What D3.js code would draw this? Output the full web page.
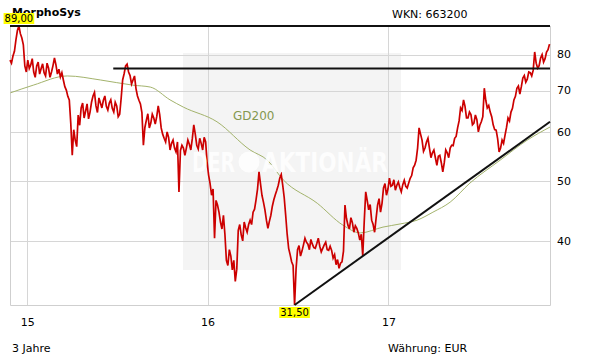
<!DOCTYPE html>
<html>
<head>
<meta charset="utf-8">
<script src="https://cdn.jsdelivr.net/npm/d3@7"></script>
<style>
  body { margin: 0; background: #fff; }
  svg { display: block; font-family: "DejaVu Sans", Verdana, sans-serif; }
</style>
</head>
<body>
<script>
// closing prices, one reading every 3 days starting 27 Nov 2014
const priceStart = new Date(2014, 10, 27);
const priceStepDays = 3;
const prices = [
  78.4, 77.5, 79.6, 81.0, 84.5, 87.5, 89.0, 86.5, 85.1, 83.0, 76.7, 75.0, 78.4, 76.0, 77.0, 78.8, 75.0, 73.5, 76.7, 77.8,
  74.4, 76.0, 77.3, 74.8, 73.9, 77.5, 76.1, 73.5, 75.0, 76.8, 79.0, 77.0, 74.4, 75.8, 73.6, 74.8, 72.8, 71.0, 70.1, 68.5,
  67.6, 62.0, 55.0, 60.5, 58.2, 56.8, 63.9, 61.5, 65.6, 66.8, 63.2, 64.8, 66.6, 63.0, 64.6, 67.0, 68.6, 69.5, 66.1, 64.5,
  68.1, 66.8, 65.6, 67.5, 68.6, 66.0, 65.1, 66.8, 67.6, 65.5, 64.6, 67.0, 66.1, 63.5, 64.1, 68.0, 72.8, 74.5, 76.7, 77.2,
  75.0, 74.0, 71.7, 72.8, 73.9, 70.5, 68.6, 67.5, 66.6, 64.5, 57.1, 61.0, 62.7, 64.2, 60.9, 62.0, 64.1, 63.2, 61.8, 63.5,
  66.1, 64.0, 60.9, 59.5, 58.6, 57.8, 60.0, 58.8, 56.1, 57.5, 58.2, 56.5, 55.7, 57.8, 48.0, 56.0, 57.1, 56.5, 55.0, 56.5,
  58.2, 57.3, 56.1, 58.5, 61.6, 59.5, 57.1, 56.3, 58.6, 57.5, 56.1, 58.8, 57.8, 53.5, 51.1, 49.5, 47.4, 48.5, 40.4, 46.5,
  45.7, 44.5, 42.9, 41.8, 44.0, 41.0, 37.2, 36.5, 38.7, 37.8, 35.9, 37.2, 34.4, 36.0, 41.6, 42.5, 40.9, 40.0, 42.9, 42.0,
  41.3, 42.5, 43.2, 42.5, 44.5, 45.0, 46.6, 48.5, 51.7, 49.5, 47.4, 46.2, 44.9, 43.2, 41.9, 43.0, 44.0, 45.5, 46.6, 47.5,
  48.3, 49.2, 50.5, 51.2, 49.2, 47.0, 44.0, 41.0, 38.9, 38.0, 37.0, 36.5, 31.5, 36.0, 38.7, 39.3, 37.8, 38.5, 39.4, 40.4,
  39.8, 39.5, 38.7, 40.2, 39.5, 39.0, 38.9, 39.6, 40.4, 39.2, 38.4, 38.9, 39.4, 39.8, 38.7, 38.6, 39.2, 38.6, 37.5, 38.0,
  36.6, 37.3, 36.1, 36.8, 37.0, 38.5, 45.7, 43.5, 42.4, 41.8, 43.6, 42.8, 41.3, 42.3, 41.9, 41.2, 40.1, 41.0, 37.8, 43.0,
  48.0, 46.5, 44.9, 45.8, 43.2, 42.5, 41.3, 43.5, 45.7, 46.8, 44.5, 46.0, 48.7, 49.5, 47.4, 48.5, 50.5, 49.0, 49.2, 50.2,
  48.3, 49.2, 49.8, 48.8, 48.0, 49.3, 50.1, 49.0, 48.7, 49.6, 50.5, 51.0, 52.5, 53.0, 54.0, 56.5, 60.9, 59.5, 58.2, 55.8,
  56.5, 57.8, 58.6, 56.5, 54.5, 55.5, 56.1, 54.5, 53.0, 54.8, 55.0, 53.5, 51.7, 53.5, 56.1, 55.5, 54.5, 56.5, 57.1, 57.0,
  58.6, 59.0, 60.9, 62.5, 65.6, 65.0, 67.6, 66.0, 63.2, 63.2, 64.6, 64.0, 61.6, 62.0, 63.9, 62.8, 60.0, 61.5, 62.3, 63.5,
  70.6, 67.5, 65.6, 66.2, 64.6, 63.5, 61.6, 60.5, 60.4, 58.5, 55.7, 56.5, 58.2, 57.5, 59.3, 61.0, 63.2, 62.5, 64.6, 65.5,
  67.6, 68.5, 70.6, 71.2, 69.1, 71.0, 73.3, 74.0, 72.2, 73.0, 75.0, 74.8, 73.9, 75.5, 80.8, 77.5, 76.1, 76.8, 79.0, 80.0,
  77.8, 78.8, 80.8, 81.5, 83.2
];

// 200-day average (GD200)
const gd200 = [
  ["2014-11-28", 69.4], ["2015-01-13", 71.4], ["2015-03-23", 73.9], ["2015-05-29", 72.8],
  ["2015-08-03", 71.4], ["2015-09-07", 70.9], ["2015-10-17", 67.6], ["2015-11-13", 65.8],
  ["2016-01-20", 62.3], ["2016-03-27", 56.1], ["2016-05-01", 54.0], ["2016-06-02", 50.2],
  ["2016-08-10", 46.0], ["2016-10-01", 42.4], ["2016-11-05", 41.2], ["2016-12-21", 42.1],
  ["2017-01-25", 42.6], ["2017-02-28", 43.2], ["2017-04-01", 44.5], ["2017-05-06", 46.2],
  ["2017-06-15", 49.6], ["2017-08-15", 54.0], ["2017-10-09", 58.2], ["2017-11-24", 61.1]
];

// drawn support / resistance lines
const resistance = { from: "2015-06-24", value: 76.0 };
const trend = [["2016-06-25", 31.5], ["2017-11-24", 62.3]];

const yTicks = [40, 50, 60, 70, 80];
const xTicks = ["2015-01-01", "2016-01-01", "2017-01-01"];
const dateEnd = "2017-11-24";

const title = "MorphoSys";
const wkn = "WKN: 663200";
const period = "3 Jahre";
const currency = "Währung: EUR";

const parse = d3.timeParse("%Y-%m-%d");
const fmtPrice = d3.format(".2f");
const fmtDe = v => fmtPrice(v).replace(".", ",");

const series = prices.map((v, i) => ({ date: d3.timeDay.offset(priceStart, i * priceStepDays), value: v }));
const avg = gd200.map(d => ({ date: parse(d[0]), value: d[1] }));

const width = 611, height = 364;
const margin = { top: 26, right: 61, bottom: 59, left: 10 };

const maxPt = series.reduce((a, b) => b.value > a.value ? b : a);
const minPt = series.reduce((a, b) => b.value < a.value ? b : a);

const x = d3.scaleTime()
  .domain([priceStart, parse(dateEnd)])
  .range([margin.left, width - margin.right]);

const y = d3.scaleLog()
  .domain([minPt.value, maxPt.value])
  .range([height - margin.bottom, margin.top]);

const svg = d3.select("body").append("svg")
  .attr("width", width)
  .attr("height", height);

const x0 = margin.left, x1 = width - margin.right;
const y0 = height - margin.bottom, y1 = margin.top;

// watermark box
svg.append("rect")
  .attr("x", 183).attr("y", 53)
  .attr("width", 218).attr("height", 217)
  .attr("fill", "#f4f4f4");

// grid
svg.append("g").selectAll("line")
  .data(yTicks)
  .join("line")
  .attr("x1", x0).attr("x2", x1)
  .attr("y1", d => Math.round(y(d)) + 0.5).attr("y2", d => Math.round(y(d)) + 0.5)
  .attr("stroke", "#d6d6d6");

svg.append("g").selectAll("line")
  .data(xTicks.map(parse))
  .join("line")
  .attr("x1", d => Math.round(x(d)) + 0.5).attr("x2", d => Math.round(x(d)) + 0.5)
  .attr("y1", y1).attr("y2", y0)
  .attr("stroke", "#d6d6d6");

// frame (left, right, bottom)
svg.append("path")
  .attr("d", `M${x0 + 0.5},${y1}V${y0 + 0.5}H${x1 + 0.5}V${y1}`)
  .attr("fill", "none")
  .attr("stroke", "#cfcfcf");

// GD200
svg.append("path")
  .datum(avg)
  .attr("fill", "none")
  .attr("stroke", "#a3b36c")
  .attr("stroke-width", 1)
  .attr("d", d3.line().x(d => x(d.date)).y(d => y(d.value)).curve(d3.curveMonotoneX));

svg.append("text")
  .attr("x", 233).attr("y", 120)
  .attr("font-size", 12)
  .attr("fill", "#859850")
  .text("GD200");

// price
svg.append("path")
  .datum(series)
  .attr("fill", "none")
  .attr("stroke", "#cc0000")
  .attr("stroke-width", 1.7)
  .attr("d", d3.line().x(d => x(d.date)).y(d => y(d.value)));

// watermark text
const wm = svg.append("g").attr("fill", "#fff").attr("opacity", 0.85)
  .attr("font-weight", "bold").attr("font-size", 27);
wm.append("text").attr("x", 192).attr("y", 172)
  .attr("textLength", 43).attr("lengthAdjust", "spacingAndGlyphs").text("DER");
wm.append("circle").attr("cx", 249).attr("cy", 162).attr("r", 10.5);
wm.append("text").attr("x", 262).attr("y", 172)
  .attr("textLength", 126).attr("lengthAdjust", "spacingAndGlyphs").text("AKTIONÄR");

// horizontal levels
svg.append("line")
  .attr("x1", x0).attr("x2", x1)
  .attr("y1", y(maxPt.value)).attr("y2", y(maxPt.value))
  .attr("stroke", "#111").attr("stroke-width", 2);

svg.append("line")
  .attr("x1", x(parse(resistance.from))).attr("x2", x1)
  .attr("y1", y(resistance.value)).attr("y2", y(resistance.value))
  .attr("stroke", "#111").attr("stroke-width", 2);

svg.append("line")
  .attr("x1", x(parse(trend[0][0]))).attr("y1", y(trend[0][1]))
  .attr("x2", x(parse(trend[1][0]))).attr("y2", y(trend[1][1]))
  .attr("stroke", "#111").attr("stroke-width", 2);

// y axis labels
svg.append("g").selectAll("text")
  .data(yTicks)
  .join("text")
  .attr("x", 557)
  .attr("y", d => y(d))
  .attr("dy", "0.35em")
  .attr("font-size", 11)
  .text(d => d);

// x axis labels
const gx = svg.append("g")
  .attr("transform", `translate(0,${y0})`)
  .call(d3.axisBottom(x)
    .tickValues(xTicks.map(parse))
    .tickFormat(d3.timeFormat("%y"))
    .tickSize(0)
    .tickPadding(13));
gx.select(".domain").remove();
gx.selectAll("text").attr("font-size", 11).attr("font-family", "DejaVu Sans").attr("fill", "#000");

// titles
svg.append("text").attr("x", 12).attr("y", 16)
  .attr("font-size", 11).attr("font-weight", "bold").text(title);
svg.append("text").attr("x", 392).attr("y", 18)
  .attr("font-size", 11).text(wkn);
svg.append("text").attr("x", 12).attr("y", 352)
  .attr("font-size", 11).text(period);
svg.append("text").attr("x", 388).attr("y", 352)
  .attr("font-size", 11).text(currency);

// max / min labels
function priceTag(pt, above) {
  const g = svg.append("g");
  const t = g.append("text")
    .attr("x", x(pt.date))
    .attr("y", above ? y(pt.value) - 4 : y(pt.value) + 11)
    .attr("text-anchor", "middle")
    .attr("font-size", 10)
    .text(fmtDe(pt.value));
  const bb = t.node().getBBox();
  g.insert("rect", "text")
    .attr("x", bb.x - 1).attr("y", bb.y)
    .attr("width", bb.width + 2).attr("height", bb.height)
    .attr("fill", "#ffff00");
}
priceTag(maxPt, true);
priceTag(minPt, false);
</script>
</body>
</html>
